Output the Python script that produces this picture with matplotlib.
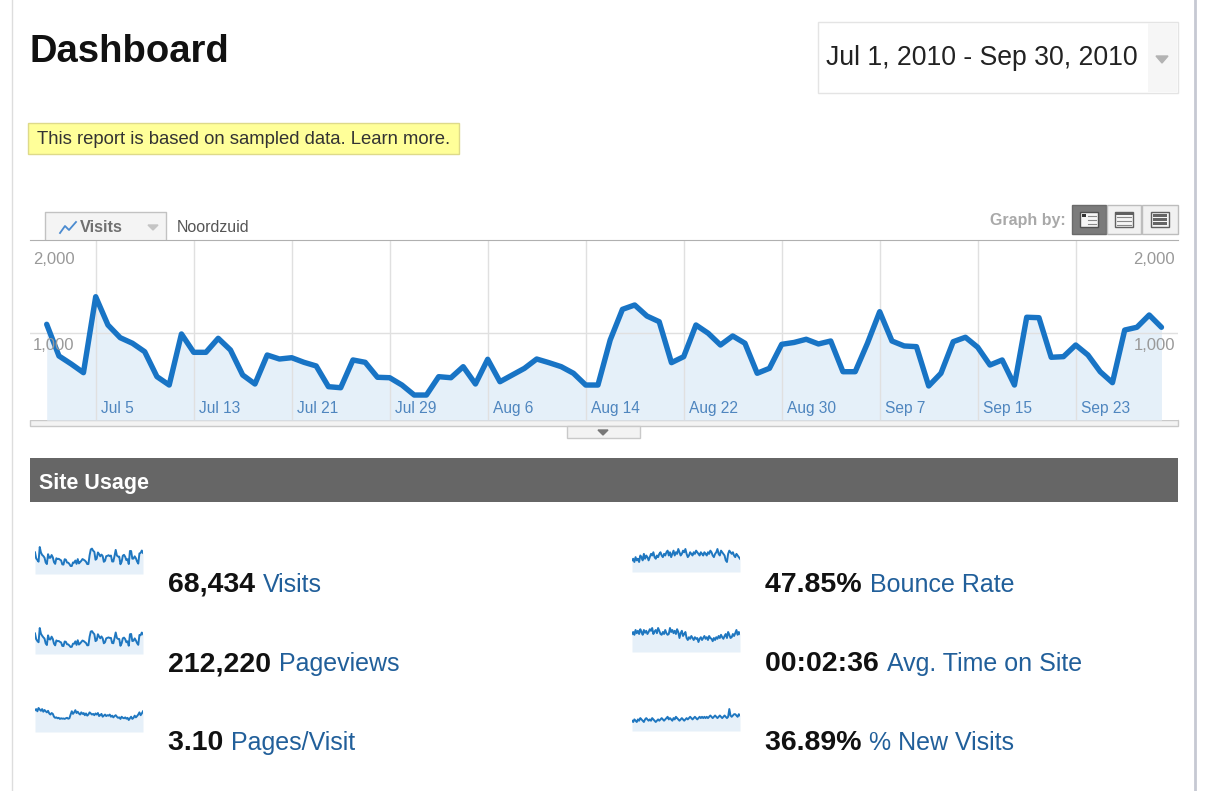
"""Google Analytics style dashboard: daily visits Jul 1 - Sep 30, 2010."""
import matplotlib
matplotlib.use('Agg')
import matplotlib.pyplot as plt
from matplotlib.patches import Rectangle, Polygon
import numpy as np
import pandas as pd

W, H = 1206, 791

# daily visits
visits_jul = [1100, 736, 644, 544, 1417, 1092, 946, 882, 785, 498, 402, 989, 778, 778,
              939, 805, 517, 414, 747, 701, 716, 663, 621, 383, 371, 690, 663, 491, 486,
              402, 287]
visits_aug = [287, 498, 486, 613, 414, 698, 440, 517, 594, 701, 659, 613, 537, 402, 402,
              920, 1272, 1322, 1195, 1130, 659, 728, 1092, 997, 862, 966, 882, 537, 594,
              870, 891]
visits_sep = [928, 874, 908, 555, 555, 882, 1245, 908, 851, 843, 391, 537, 900, 951, 836,
              632, 690, 402, 1181, 1176, 721, 728, 862, 747, 555, 429, 1034, 1066, 1207, 1066]
visits = visits_jul + visits_aug + visits_sep

# sparkline series (estimated from the small graphs)
pages_per_visit = [3.25, 3.30, 3.20, 3.35, 3.28, 3.22, 3.30, 3.18, 3.26, 3.20, 3.15, 3.22,
                   3.10, 3.05, 3.12, 3.08, 2.95, 2.90, 2.92, 2.88, 2.90, 2.85, 2.88, 2.86,
                   2.87, 2.85, 2.88, 2.90, 2.86, 2.88, 3.05,
                   3.20, 3.08, 3.15, 3.25, 3.12, 3.18, 3.10, 3.05, 3.15, 3.08, 3.12, 3.02,
                   3.10, 3.00, 3.05, 3.15, 3.10, 3.05, 3.08, 3.02, 3.10, 3.05, 3.12, 2.98,
                   3.02, 3.08, 2.95, 3.00, 3.05, 2.98, 3.02,
                   3.00, 3.05, 2.95, 3.00, 2.92, 2.98, 3.02, 2.95, 2.90, 2.92, 2.85, 2.95,
                   2.90, 2.88, 2.92, 2.86, 2.90, 2.80, 2.88, 2.95, 2.85, 2.90, 3.00, 2.92,
                   2.98, 3.05, 3.15, 3.02, 3.10, 3.20]
bounce_rate = [45, 46, 44, 47, 45, 46, 44, 48, 47, 45, 49, 46, 48, 47, 45, 47, 49, 48, 50,
               47, 46, 48, 47, 49, 50, 48, 47, 49, 48, 50, 51,
               48, 50, 47, 49, 51, 48, 50, 49, 52, 50, 48, 49, 51, 50, 52, 49, 47, 48, 50,
               49, 48, 50, 49, 51, 50, 49, 48, 50, 49, 48, 50,
               49, 48, 50, 49, 51, 50, 48, 47, 49, 50, 52, 49, 48, 51, 50, 49, 48, 45, 44,
               49, 51, 50, 49, 50, 48, 47, 49, 48, 47, 46]
avg_time = [160, 165, 158, 170, 162, 168, 160, 172, 165, 158, 170, 163, 168, 160, 165, 172,
            168, 175, 160, 166, 170, 162, 175, 168, 160, 158, 165, 160, 170, 162, 158,
            160, 175, 165, 170, 162, 168, 160, 172, 165, 150, 162, 168, 155, 160, 165, 150,
            145, 152, 148, 155, 150, 145, 152, 148, 150, 140, 148, 152, 145, 150, 155,
            148, 152, 145, 155, 150, 148, 142, 150, 145, 152, 148, 155, 150, 158, 152, 148,
            155, 160, 150, 165, 158, 150, 152, 160, 155, 162, 170, 158, 165, 160]
new_visits = [35, 34, 36, 35, 34, 36, 35, 37, 36, 35, 34, 36, 37, 36, 35, 36, 35, 37, 36,
              35, 34, 35, 36, 35, 36, 37, 36, 35, 36, 37, 38,
              36, 37, 36, 35, 37, 36, 38, 37, 36, 35, 36, 37, 36, 35, 36, 37, 36, 37, 38,
              37, 36, 37, 38, 37, 36, 37, 38, 37, 38, 37, 38,
              37, 38, 37, 38, 39, 38, 37, 38, 39, 38, 37, 38, 39, 38, 37, 38, 39, 38, 37,
              38, 44, 39, 38, 39, 40, 40, 39, 38, 40, 39]
pageviews = list(np.array(visits) * np.array(pages_per_visit))

y_ticks = [1000, 2000]
y_labels = ['1,000', '2,000']

metric_values = ['68,434', '212,220', '3.10', '47.85%', '00:02:36', '36.89%']
metric_names = ['Visits', 'Pageviews', 'Pages/Visit', 'Bounce Rate', 'Avg. Time on Site',
                '% New Visits']

dates = pd.date_range('2010-07-01', '2010-09-30')
tick_days = list(range(4, len(dates), 8))
tick_labels = [f'{dates[d]:%b} {dates[d].day}' for d in tick_days]

plt.rcParams['font.family'] = ['Liberation Sans', 'DejaVu Sans']

fig = plt.figure(figsize=(W / 100, H / 100), dpi=100)


def px_axes(x0, y0, x1, y1):
    return fig.add_axes([x0 / W, 1 - y1 / H, (x1 - x0) / W, (y1 - y0) / H])


# page decoration, drawn in pixel coordinates
bg = fig.add_axes([0, 0, 1, 1])
bg.set_xlim(0, W)
bg.set_ylim(H, 0)
bg.axis('off')

bg.plot([12, 12], [0, H], color='#dddddd', lw=1)
bg.plot([1195, 1195], [0, H], color='#c6c9d3', lw=2)

bg.text(30, 52, 'Dashboard', fontsize=27.5, fontweight='bold', color='#111111', va='center')

bg.add_patch(Rectangle((818, 22), 360, 71, fc='white', ec='#e4e4e4', lw=1))
bg.add_patch(Rectangle((1148, 23), 29, 69, fc='#f6f6f6', ec='none'))
bg.add_patch(Polygon([(1156, 56), (1168, 56), (1162, 63)], closed=True, color='#b3b3b3'))
bg.text(826, 58, 'Jul 1, 2010 - Sep 30, 2010', fontsize=19.2, color='#222222', va='center')

bg.add_patch(Rectangle((28, 123), 431, 31, fc='#ffff99', ec='#deda8a', lw=1))
bg.text(37, 140, 'This report is based on sampled data. Learn more.', fontsize=13.3,
        color='#333333', va='center')

# metric tab
bg.add_patch(Rectangle((45, 212), 121, 28, fc='#f4f4f4', ec='none'))
bg.plot([45, 45, 166, 166], [240, 212, 212, 240], color='#c2c2c2', lw=1)
bg.plot([60, 65, 69, 76], [233, 226, 230, 222], color='#4b8bd0', lw=1.3)
bg.text(80, 227, 'Visits', fontsize=11.7, fontweight='bold', color='#707070', va='center')
bg.add_patch(Polygon([(148, 225), (158, 225), (153, 230)], closed=True, color='#c4c4c4'))
bg.text(177, 227, 'Noordzuid', fontsize=11.5, color='#555555', va='center')

# graph-by buttons
bg.text(1066, 220, 'Graph by:', fontsize=11.5, fontweight='bold', color='#a9a9a9',
        va='center', ha='right')
bg.add_patch(Rectangle((1072, 205), 34, 29, fc='#7b7b7b', ec='#6a6a6a', lw=1))
bg.add_patch(Rectangle((1107, 205), 34, 29, fc='#f1f1f1', ec='#bdbdbd', lw=1))
bg.add_patch(Rectangle((1142, 205), 36, 29, fc='#f1f1f1', ec='#bdbdbd', lw=1))
bg.add_patch(Rectangle((1080, 212), 18, 15, fc='#f6f6f6', ec='#505050', lw=1))
bg.add_patch(Rectangle((1082, 214), 4, 3, fc='#333333', ec='none'))
bg.add_patch(Rectangle((1115, 212), 18, 15, fc='#f6f6f6', ec='#606060', lw=1))
bg.add_patch(Rectangle((1115, 212), 18, 3, fc='#606060', ec='none'))
bg.add_patch(Rectangle((1151, 212), 18, 15, fc='#f6f6f6', ec='#606060', lw=1))
for yy in (216, 220, 224):
    bg.plot([1088, 1096], [yy, yy], color='#888888', lw=0.8)
    bg.plot([1117, 1131], [yy + 1, yy + 1], color='#888888', lw=0.8)
    bg.add_patch(Rectangle((1153, yy - 2), 14, 2.5, fc='#666666', ec='none'))

# scroll strip under the graph
bg.add_patch(Rectangle((30, 420), 1148, 6, fc='#f3f3f3', ec='#c9c9c9', lw=1))
bg.add_patch(Rectangle((567, 426), 73, 12, fc='#f3f3f3', ec='#c9c9c9', lw=1))
bg.add_patch(Polygon([(598, 430), (608, 430), (603, 435)], closed=True, color='#777777'))

# site usage header
bg.add_patch(Rectangle((30, 458), 1148, 44, fc='#666666', ec='none'))
bg.text(39, 484, 'Site Usage', fontsize=15.5, fontweight='bold', color='white', va='center')

# main visits graph
ax = px_axes(30, 240, 1178, 420)
days = np.arange(len(visits))
ax.fill_between(days, visits, 0, color='#e5f0f9', lw=0, zorder=1)
for d in tick_days:
    ax.axvline(d, color='#e0e0e0', lw=1, zorder=1.5)
ax.axhline(1000, color='#e0e0e0', lw=1, zorder=1.5)
ax.plot(days, visits, color='#1874c5', lw=3.9, solid_joinstyle='round',
        solid_capstyle='round', zorder=3)
ax.set_xlim(-16.7 / 12.25, (1178 - 46.7) / 12.25)
ax.set_ylim(0, 2000 + 6 / 0.087)
ax.set_xticks([])
ax.set_yticks([])
for side in ('left', 'right', 'bottom'):
    ax.spines[side].set_visible(False)
ax.spines['top'].set_color('#b0b0b0')

for d, lab in zip(tick_days, tick_labels):
    ax.annotate(lab, xy=(d, 0), xytext=(5, 12), textcoords='offset pixels',
                va='center', ha='left', color='#4f86bf', fontsize=11.2, zorder=4)
for val, lab in zip(y_ticks, y_labels):
    ax.annotate(lab, xy=(0, val), xycoords=('axes fraction', 'data'), xytext=(3, -13),
                textcoords='offset pixels', va='center', ha='left', color='#999999',
                fontsize=12, zorder=4)
    ax.annotate(lab, xy=(1, val), xycoords=('axes fraction', 'data'), xytext=(-3, -13),
                textcoords='offset pixels', va='center', ha='right', color='#999999',
                fontsize=12, zorder=4)


def sparkline(x0, x1, line_top, line_bot, fill_bot, values):
    a = px_axes(x0, line_top - 3, x1, fill_bot)
    v = np.asarray(values, dtype=float)
    k = (v.max() - v.min()) / (line_bot - line_top)
    low = v.min() - (fill_bot - line_bot) * k
    a.set_ylim(low, v.max() + 3 * k)
    a.set_xlim(0, len(v) - 1)
    xs = np.arange(len(v))
    a.fill_between(xs, v, low, color='#e6f0f9', lw=0)
    a.plot(xs, v, color='#1f77c0', lw=1.4)
    a.axis('off')


spark_series = [visits, pageviews, pages_per_visit, bounce_rate, avg_time, new_visits]
spark_rows = [(547, 566, 574), (628, 647, 654), (708, 720, 732),
              (549, 562, 572), (628, 642, 652), (709, 722, 731)]
for i, (series, (lt, lb, fb)) in enumerate(zip(spark_series, spark_rows)):
    x0 = 35 if i < 3 else 632
    sparkline(x0, x0 + 108, lt, lb, fb, series)

text_rows = [585, 664, 743]
for i, (val, name) in enumerate(zip(metric_values, metric_names)):
    x = 168 if i < 3 else 765
    y = text_rows[i % 3]
    t = bg.text(x, y, val + ' ', fontsize=20.5, fontweight='bold', color='#111111',
                va='center')
    fig.canvas.draw_idle()
    bb = t.get_window_extent(renderer=fig.canvas.get_renderer())
    bg.text(x + bb.width, y, name, fontsize=18, color='#215f9a', va='center')

fig.savefig('out.png', dpi=100)
